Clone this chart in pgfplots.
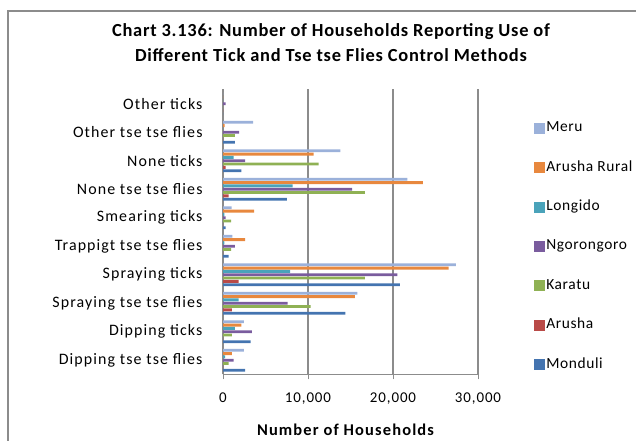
\documentclass[border=0pt]{standalone}
\usepackage{pgfplots}
\pgfplotsset{compat=1.18}
\usepackage{fontspec}
\setmainfont{Carlito}
\newfontfamily\catfont{Carlito}[LetterSpace=7]
\newfontfamily\legfont{Carlito}[LetterSpace=4]
\newfontfamily\tickfont{Carlito}[LetterSpace=6]

\definecolor{meru}{HTML}{9BB1DA}
\definecolor{arurural}{HTML}{E8883E}
\definecolor{longido}{HTML}{4AA3BA}
\definecolor{ngoro}{HTML}{7A5C9E}
\definecolor{karatu}{HTML}{8FB154}
\definecolor{arusha}{HTML}{B94A47}
\definecolor{monduli}{HTML}{4474B0}
\definecolor{gridgray}{HTML}{8C8C8C}

\begin{document}
\begin{tikzpicture}[x=1bp,y=1bp]
\useasboundingbox (0,0) rectangle (636,441);
\begin{scope}
\clip (0,0) rectangle (636,441);
\draw[gridgray, line width=2bp] (8,-20) -- (8,430) -- (660,430);
\end{scope}

% title
\node[font=\fontsize{18.5}{25}\selectfont\legfont\bfseries, align=center] at (331,398)
  {Chart 3.136: Number of Households Reporting Use of\\Different Tick and Tse tse Flies Control Methods};

\coordinate (plotSW) at (223,66.5);
\begin{axis}[
    at={(plotSW)}, anchor=south west,
    scale only axis,
    width=255bp, height=285bp,
    xbar,
    bar width=0.1,
    xmin=0, xmax=30000,
    ymin=-0.5, ymax=9.5,
    axis x line*=bottom,
    axis y line*=left,
    axis line style={gridgray, line width=1.2bp, -},
    xtick={0,10000,20000,30000},
    xtick style={gridgray, line width=1bp},
    tick align=outside,
    major tick length=5bp,
    xmajorgrids,
    major grid style={gridgray, line width=1.2bp},
    ytick={0,...,9},
    ytick style={draw=none},
    yticklabels={Dipping tse tse flies, Dipping ticks, Spraying tse tse flies,
      Spraying ticks, Trappigt tse tse flies, Smearing ticks, None tse tse flies,
      None ticks, Other tse tse flies, Other ticks},
    yticklabel style={font=\fontsize{16}{18}\selectfont\catfont, xshift=-12bp},
    xticklabel style={font=\fontsize{15}{17}\selectfont\tickfont, yshift=-10bp},
    scaled x ticks=false,
    /pgf/number format/1000 sep={,},
    /pgf/number format/assume math mode=true,
    xlabel={\bfseries Number of Households},
    xlabel style={font=\fontsize{16.5}{18}\selectfont\catfont, yshift=-12bp, xshift=-5bp},
    legend cell align=left,
    legend style={at={(1.22,0.891)}, anchor=north west, draw=none, fill=none,
      font=\fontsize{15.5}{17}\selectfont\legfont, row sep=24.4bp, inner sep=0bp,
      nodes={inner sep=1bp, text height=10bp, text depth=3bp}},
    legend image code/.code={\fill[#1, draw=none] (0bp,-5.5bp) rectangle (11bp,5.5bp);},
    every axis plot/.append style={draw=none},
]

\addplot[fill=meru, bar shift=0.35] coordinates {
  (0,9) (3550,8) (13800,7) (21700,6) (1000,5) (1100,4) (27400,3) (15800,2) (2450,1) (2450,0)};
\addplot[fill=arurural, bar shift=0.2333] coordinates {
  (0,9) (200,8) (10650,7) (23500,6) (3650,5) (2600,4) (26550,3) (15500,2) (2150,1) (1050,0)};
\addplot[fill=longido, bar shift=0.1167] coordinates {
  (0,9) (0,8) (1250,7) (8200,6) (150,5) (150,4) (7900,3) (1850,2) (1400,1) (250,0)};
\addplot[fill=ngoro, bar shift=0] coordinates {
  (300,9) (1900,8) (2600,7) (15200,6) (300,5) (1400,4) (20500,3) (7600,2) (3400,1) (1250,0)};
\addplot[fill=karatu, bar shift=-0.1167] coordinates {
  (0,9) (1400,8) (11250,7) (16700,6) (950,5) (950,4) (16700,3) (10300,2) (1050,1) (650,0)};
\addplot[fill=arusha, bar shift=-0.2333] coordinates {
  (0,9) (0,8) (300,7) (650,6) (0,5) (0,4) (1850,3) (1050,2) (0,1) (0,0)};
\addplot[fill=monduli, bar shift=-0.35] coordinates {
  (0,9) (1400,8) (2150,7) (7500,6) (300,5) (650,4) (20800,3) (14400,2) (3250,1) (2600,0)};

\legend{Meru, Arusha Rural, Longido, Ngorongoro, Karatu, Arusha, Monduli}
\end{axis}
\end{tikzpicture}
\end{document}
